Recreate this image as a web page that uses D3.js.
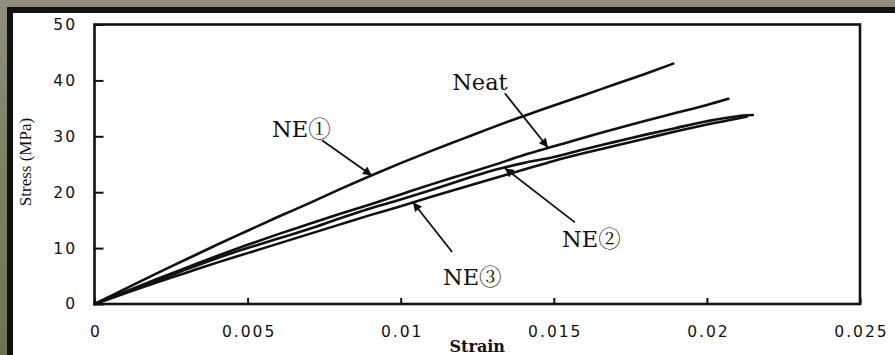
<!DOCTYPE html>
<html><head><meta charset="utf-8">
<script src="https://cdn.jsdelivr.net/npm/d3@7"></script>
<style>html,body{margin:0;padding:0;background:#fff;overflow:hidden}</style>
</head><body><svg id="c" width="895" height="355"></svg>
<script>
// ---- data ----
const strainNE1 = [0,0.001,0.002,0.003,0.004,0.005,0.006,0.007,0.008,0.009,0.010,0.011,0.012,0.013,0.014,0.015,0.016,0.017,0.018,0.0189];
const stressNE1 = [0,2.7,5.4,8.0,10.6,13.1,15.6,18.0,20.5,22.9,25.2,27.4,29.5,31.6,33.6,35.5,37.4,39.3,41.2,43.0];

const strainNeat = [0,0.001,0.002,0.003,0.004,0.005,0.006,0.007,0.008,0.009,0.010,0.011,0.012,0.013,0.014,0.015,0.016,0.017,0.018,0.019,0.020,0.0207];
const stressNeat = [0,2.2,4.4,6.5,8.6,10.6,12.5,14.3,16.1,17.8,19.6,21.4,23.1,24.8,26.6,28.2,29.8,31.3,32.8,34.2,35.6,36.7];

const strainNE2 = [0,0.001,0.002,0.003,0.004,0.005,0.006,0.007,0.008,0.009,0.010,0.011,0.012,0.013,0.014,0.015,0.016,0.017,0.018,0.019,0.020,0.021,0.0215];
const stressNE2 = [0,2.0,4.1,6.2,8.2,10.0,11.7,13.4,15.3,17.1,18.7,20.4,22.2,23.9,25.2,26.3,27.7,29.0,30.3,31.5,32.7,33.6,33.8];

const strainNE3 = [0,0.001,0.002,0.003,0.004,0.005,0.006,0.007,0.008,0.009,0.010,0.011,0.012,0.013,0.014,0.015,0.016,0.017,0.018,0.019,0.020,0.021,0.0213];
const stressNE3 = [0,1.9,3.8,5.6,7.4,9.1,10.8,12.5,14.2,15.9,17.5,19.2,20.8,22.4,24.0,25.6,27.0,28.3,29.6,30.9,32.1,33.2,33.5];

const xTicks = [0,0.005,0.01,0.015,0.02,0.025];
const xTickLabels = ["0","0.005","0.01","0.015","0.02","0.025"];
const yTicks = [0,10,20,30,40,50];
const yTickLabels = ["0","10","20","30","40","50"];

// annotation labels: text, label anchor (strain, stress), arrow tail, arrow tip
const annText   = ["NE\u2460","Neat","NE\u2461","NE\u2462"];
const annPos    = [[0.0058,29.8],[0.01168,38.2],[0.01527,10.2],[0.01138,3.4]];
const annTail   = [[0.00743,29.3],[0.0134,37.7],[0.01569,14.6],[0.01168,9.3]];
const annTip    = [[0.00906,23.0],[0.01481,28.0],[0.0134,24.3],[0.0104,18.2]];

// ---- drawing ----
const svg = d3.select("#c");
const W = 895, H = 355;

// photo surround
const defs = svg.append("defs");
const g = defs.append("linearGradient").attr("id","bg").attr("x1",0).attr("y1",0).attr("x2",0).attr("y2",1);
g.append("stop").attr("offset","0%").attr("stop-color","#8f8e80");
g.append("stop").attr("offset","50%").attr("stop-color","#7c7f62");
g.append("stop").attr("offset","100%").attr("stop-color","#6e7450");
svg.append("rect").attr("width",W).attr("height",H).attr("fill","url(#bg)");
svg.append("rect").attr("x",7).attr("y",7).attr("width",W-7).attr("height",H-7).attr("fill","#121212");
svg.append("rect").attr("x",13).attr("y",13).attr("width",W-13).attr("height",H-13).attr("fill","#ffffff");

const x = d3.scaleLinear().domain([0,0.025]).range([94.5,860]);
const y = d3.scaleLinear().domain([0,50]).range([304,24.5]);

defs.append("marker").attr("id","ah").attr("markerUnits","userSpaceOnUse")
  .attr("viewBox","0 0 10 10").attr("refX",10).attr("refY",5)
  .attr("markerWidth",12).attr("markerHeight",9).attr("orient","auto")
  .append("path").attr("d","M0,0 L10,5 L0,10 Z").attr("fill","#111");

// axes
const tickFont = "'DejaVu Sans', sans-serif";
const ax = svg.append("g").attr("transform",`translate(0,${y(0)})`)
  .call(d3.axisBottom(x).tickValues(xTicks).tickFormat((d,i)=>xTickLabels[i]).tickSizeInner(-6).tickSizeOuter(0).tickPadding(22));
ax.select(".domain").remove();
ax.selectAll(".tick line").attr("stroke","#111").attr("stroke-width",2);
ax.selectAll(".tick text").attr("fill","#111").style("font-family",tickFont).style("font-size","15.5px")
  .style("letter-spacing","2px").attr("dx","1");

const ay = svg.append("g").attr("transform",`translate(${x(0)},0)`)
  .call(d3.axisLeft(y).tickValues(yTicks).tickFormat((d,i)=>yTickLabels[i]).tickSizeInner(-9).tickSizeOuter(0).tickPadding(17.5));
ay.select(".domain").remove();
ay.selectAll(".tick line").attr("stroke","#111").attr("stroke-width",2);
ay.selectAll(".tick text").attr("fill","#111").style("font-family",tickFont).style("font-size","15.5px")
  .style("letter-spacing","2px");

// frame
svg.append("rect").attr("x",x(0)).attr("y",y(50)).attr("width",x(0.025)-x(0)).attr("height",y(0)-y(50))
  .attr("fill","none").attr("stroke","#111").attr("stroke-width",2.6);

// curves
const series = [[strainNE1,stressNE1],[strainNeat,stressNeat],[strainNE2,stressNE2],[strainNE3,stressNE3]];
const line = d3.line().x(d=>x(d[0])).y(d=>y(d[1])).curve(d3.curveMonotoneX);
series.forEach(([sx,sy])=>{
  svg.append("path").datum(sx.map((v,i)=>[v,sy[i]])).attr("d",line)
    .attr("fill","none").attr("stroke","#111").attr("stroke-width",2.6).attr("stroke-linejoin","round").attr("stroke-linecap","round");
});

// annotations
const annFont = "'DejaVu Serif', 'Noto Serif CJK JP', 'Noto Sans CJK JP', serif";
annText.forEach((t,i)=>{
  svg.append("line").attr("x1",x(annTail[i][0])).attr("y1",y(annTail[i][1]))
    .attr("x2",x(annTip[i][0])).attr("y2",y(annTip[i][1]))
    .attr("stroke","#111").attr("stroke-width",1.8).attr("marker-end","url(#ah)");
  svg.append("text").attr("x",x(annPos[i][0])).attr("y",y(annPos[i][1])).text(t)
    .style("font-family",annFont).style("font-size","22.5px").attr("fill","#111");
});

// axis titles
svg.append("text").attr("x",x(0.0125)).attr("y",352).attr("text-anchor","middle")
  .style("font-family","'DejaVu Serif', serif").style("font-size","16px").style("font-weight","600").attr("fill","#111").text("Strain");
svg.append("text").attr("transform",`translate(31,162) rotate(-90)`).attr("text-anchor","middle")
  .style("font-family","'Liberation Serif', serif").style("font-size","17px").attr("fill","#111").text("Stress (MPa)");
</script></body></html>
